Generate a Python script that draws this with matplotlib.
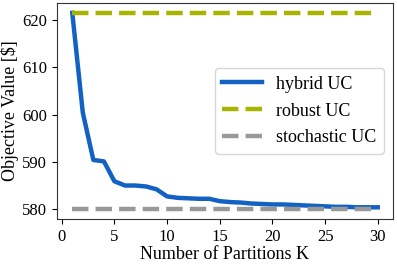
import matplotlib
matplotlib.use("Agg")
import matplotlib.pyplot as plt

K = list(range(1, 31))
hybrid = [621.5, 600.4, 590.4, 590.1, 585.9, 585.0, 585.0, 584.8, 584.2, 582.7,
          582.4, 582.3, 582.2, 582.2, 581.7, 581.5, 581.4, 581.2, 581.1, 581.0,
          581.0, 580.9, 580.8, 580.7, 580.6, 580.5, 580.5, 580.4, 580.4, 580.4]
robust = [621.5] * 30
stochastic = [580.0] * 30

plt.rcParams['font.family'] = ['Liberation Serif', 'DejaVu Serif']
plt.rcParams['font.size'] = 13

fig = plt.figure(figsize=(3.97, 2.64), dpi=100)
ax = fig.add_axes([57/397, 1 - 219/264, (393-57)/397, (219-3)/264])
ax.plot(K, hybrid, color='#1262c4', lw=3.2, label='hybrid UC')
ax.plot(K, robust, color='#a9b400', lw=3.2, ls='--', label='robust UC')
ax.plot(K, stochastic, color='#999999', lw=3.2, ls='--', label='stochastic UC')
ax.set_xticks([0, 5, 10, 15, 20, 25, 30])
ax.set_yticks([580, 590, 600, 610, 620])
ax.tick_params(labelsize=12)
ax.set_xlabel('Number of Partitions K', labelpad=1)
ax.set_ylabel('Objective Value [$]', labelpad=2)
for s in ax.spines.values():
    s.set_color('#333333')
ax.legend(loc='center right', fontsize=13, handlelength=2.2, labelspacing=0.55)
fig.savefig('out.png', dpi=100)
